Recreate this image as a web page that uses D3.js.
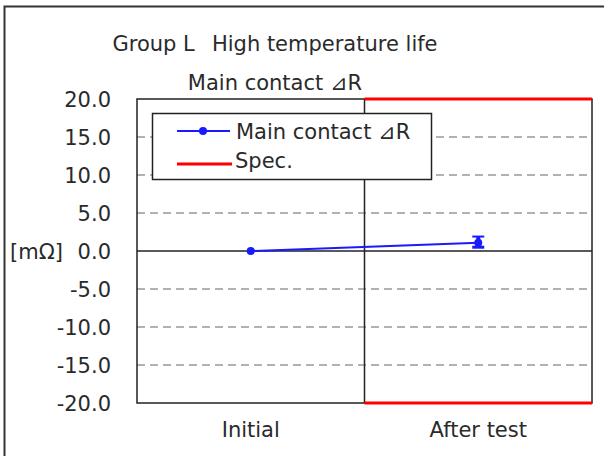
<!DOCTYPE html>
<html>
<head>
<meta charset="utf-8">
<script src="https://cdn.jsdelivr.net/npm/d3@7"></script>
<style>
  body { margin: 0; background: #fff; }
  text { font-family: "DejaVu Sans", sans-serif; fill: #2a2a2a; }
</style>
</head>
<body>
<script>
var categories = ['Initial', 'After test'];
var meanValues = [0.0, 1.1];
var maxValues = [0.0, 1.9];
var minValues = [0.0, 0.5];
var specHigh = [null, 20];
var specLow = [null, -20];
var yTicks = [20, 15, 10, 5, 0, -5, -10, -15, -20];

var width = 604, height = 456;
var margin = { top: 99, right: 12, bottom: 53, left: 137 };

var svg = d3.select('body').append('svg')
  .attr('width', width)
  .attr('height', height);

// outer frame
svg.append('rect')
  .attr('x', 4.5).attr('y', 6.5)
  .attr('width', 640).attr('height', 500)
  .attr('fill', 'none')
  .attr('stroke', '#333')
  .attr('stroke-width', 2);

var x = d3.scaleBand()
  .domain(categories)
  .range([margin.left, width - margin.right]);

var y = d3.scaleLinear()
  .domain([-20, 20])
  .range([height - margin.bottom, margin.top]);

// titles
svg.append('text')
  .attr('x', 275).attr('y', 51)
  .attr('text-anchor', 'middle')
  .style('font-size', '21px')
  .text('Group L\u2002 High temperature life');
svg.append('text')
  .attr('x', 275).attr('y', 90)
  .attr('text-anchor', 'middle')
  .style('font-size', '21px')
  .text('Main contact \u22BFR');

// dashed grid
svg.selectAll('.grid')
  .data(yTicks.filter(function(d) { return d !== 0 && Math.abs(d) !== 20; }))
  .enter().append('line')
  .attr('class', 'grid')
  .attr('x1', margin.left).attr('x2', width - margin.right)
  .attr('y1', function(d) { return y(d); })
  .attr('y2', function(d) { return y(d); })
  .attr('stroke', '#999')
  .attr('stroke-width', 1.5)
  .attr('stroke-dasharray', '8,5');

// zero line
svg.append('line')
  .attr('x1', margin.left).attr('x2', width - margin.right)
  .attr('y1', y(0)).attr('y2', y(0))
  .attr('stroke', '#222').attr('stroke-width', 1.5);

// plot border
svg.append('rect')
  .attr('x', margin.left).attr('y', y(20))
  .attr('width', x.range()[1] - x.range()[0])
  .attr('height', y(-20) - y(20))
  .attr('fill', 'none')
  .attr('stroke', '#222')
  .attr('stroke-width', 1.5);

// category divider
svg.append('line')
  .attr('x1', x(categories[1])).attr('x2', x(categories[1]))
  .attr('y1', y(20)).attr('y2', y(-20))
  .attr('stroke', '#222').attr('stroke-width', 1.5);

// spec lines
[specHigh, specLow].forEach(function(arr) {
  categories.forEach(function(c, i) {
    if (arr[i] === null) return;
    svg.append('line')
      .attr('x1', x(c)).attr('x2', x(c) + x.bandwidth())
      .attr('y1', y(arr[i])).attr('y2', y(arr[i]))
      .attr('stroke', '#ff0000')
      .attr('stroke-width', 3);
  });
});

// y tick labels
svg.selectAll('.ytick')
  .data(yTicks)
  .enter().append('text')
  .attr('class', 'ytick')
  .attr('x', 111)
  .attr('y', function(d) { return y(d) + 8; })
  .attr('text-anchor', 'end')
  .style('font-size', '21px')
  .text(function(d) { return d3.format('.1f')(d).replace('\u2212', '-'); });

svg.append('text')
  .attr('x', 10).attr('y', y(0) + 8)
  .style('font-size', '21px')
  .text('[m\u03A9]');

// category labels
svg.selectAll('.xlab')
  .data(categories)
  .enter().append('text')
  .attr('class', 'xlab')
  .attr('x', function(d) { return x(d) + x.bandwidth() / 2; })
  .attr('y', 437)
  .attr('text-anchor', 'middle')
  .style('font-size', '21px')
  .text(function(d) { return d; });

var pts = categories.map(function(c, i) {
  return { cat: c, v: meanValues[i], lo: minValues[i], hi: maxValues[i] };
});
var cx = function(d) { return x(d.cat) + x.bandwidth() / 2; };

// series line
svg.append('path')
  .datum(pts)
  .attr('fill', 'none')
  .attr('stroke', '#1a1aff')
  .attr('stroke-width', 2)
  .attr('d', d3.line().x(cx).y(function(d) { return y(d.v); }));

// error bars
var eb = svg.selectAll('.eb')
  .data(pts.filter(function(d) { return d.hi !== d.lo; }))
  .enter().append('g').attr('class', 'eb');
eb.append('line')
  .attr('x1', cx).attr('x2', cx)
  .attr('y1', function(d) { return y(d.hi); })
  .attr('y2', function(d) { return y(d.lo); })
  .attr('stroke', '#1a1aff').attr('stroke-width', 4);
eb.append('line')
  .attr('x1', function(d) { return cx(d) - 6; })
  .attr('x2', function(d) { return cx(d) + 6; })
  .attr('y1', function(d) { return y(d.hi); })
  .attr('y2', function(d) { return y(d.hi); })
  .attr('stroke', '#1a1aff').attr('stroke-width', 2);
eb.append('line')
  .attr('x1', function(d) { return cx(d) - 6; })
  .attr('x2', function(d) { return cx(d) + 6; })
  .attr('y1', function(d) { return y(d.lo); })
  .attr('y2', function(d) { return y(d.lo); })
  .attr('stroke', '#1a1aff').attr('stroke-width', 3);

// markers
svg.selectAll('.pt')
  .data(pts)
  .enter().append('circle')
  .attr('class', 'pt')
  .attr('cx', cx)
  .attr('cy', function(d) { return y(d.v); })
  .attr('r', 4)
  .attr('fill', '#1a1aff');

// legend
var lg = svg.append('g');
lg.append('rect')
  .attr('x', 152.5).attr('y', 113.5)
  .attr('width', 279).attr('height', 66)
  .attr('fill', '#fff')
  .attr('stroke', '#222')
  .attr('stroke-width', 1.5);
lg.append('line')
  .attr('x1', 177).attr('x2', 230).attr('y1', 131).attr('y2', 131)
  .attr('stroke', '#1a1aff').attr('stroke-width', 2);
lg.append('circle')
  .attr('cx', 203).attr('cy', 131).attr('r', 4).attr('fill', '#1a1aff');
lg.append('line')
  .attr('x1', 177).attr('x2', 232).attr('y1', 164).attr('y2', 164)
  .attr('stroke', '#ff0000').attr('stroke-width', 3);
lg.append('text')
  .attr('x', 236).attr('y', 139)
  .style('font-size', '21px')
  .text('Main contact \u22BFR');
lg.append('text')
  .attr('x', 235).attr('y', 168)
  .style('font-size', '21px')
  .text('Spec.');
</script>
</body>
</html>
